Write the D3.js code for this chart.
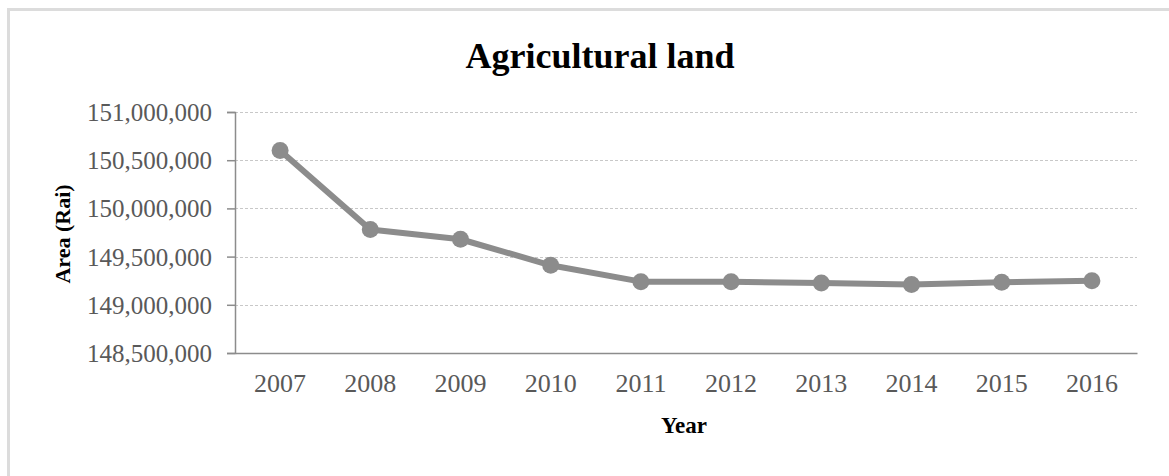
<!DOCTYPE html>
<html><head><meta charset="utf-8">
<script src="https://cdn.jsdelivr.net/npm/d3@7/dist/d3.min.js"></script>
<style>body{margin:0;background:#fff}svg{display:block}</style>
</head><body>
<svg id="c" width="1169" height="476"></svg>
<script>
const years = ["2007","2008","2009","2010","2011","2012","2013","2014","2015","2016"];
const area = [150600000,149780000,149680000,149410000,149240000,149240000,149225000,149210000,149235000,149250000];
const yTicks = [148500000,149000000,149500000,150000000,150500000,151000000];
const title = "Agricultural land";
const xTitle = "Year";
const yTitle = "Area (Rai)";

const svg = d3.select("#c");
const font = "'Liberation Serif','Times New Roman',serif";
const m = {l:235, r:1137, t:112, b:353};

svg.append("rect").attr("x",8.5).attr("y",9.5).attr("width",1170).attr("height",480)
  .attr("fill","none").attr("stroke","#dcdcdc").attr("stroke-width",3);

const x = d3.scaleBand().domain(years).range([m.l,m.r]);
const y = d3.scaleLinear().domain([148500000,151000000]).range([m.b,m.t]);

// gridlines
svg.append("g").selectAll("line").data(yTicks.slice(1)).join("line")
  .attr("x1",m.l).attr("x2",m.r).attr("y1",d=>Math.round(y(d))+0.5).attr("y2",d=>Math.round(y(d))+0.5)
  .attr("stroke","#c8c8c8").attr("stroke-width",1.2).attr("stroke-dasharray","3,2");

// y axis
const ya = svg.append("g").attr("transform",`translate(${m.l},0)`)
  .call(d3.axisLeft(y).tickValues(yTicks).tickSize(8).tickPadding(15).tickFormat(d3.format(",")));
ya.select(".domain").attr("stroke","#8c8c8c").attr("stroke-width",1.5);
ya.selectAll(".tick line").attr("stroke","#8c8c8c").attr("stroke-width",1.5);
ya.selectAll("text").attr("font-family",font).attr("font-size",25).attr("fill","#595959").attr("dy","0.34em");

// x axis
const xa = svg.append("g").attr("transform",`translate(0,${m.b})`)
  .call(d3.axisBottom(x).tickSize(0).tickPadding(21));
xa.select(".domain").attr("stroke","#8c8c8c").attr("stroke-width",1.5);
xa.selectAll("text").attr("font-family",font).attr("font-size",26).attr("fill","#595959");

// line
const line = d3.line().x((d,i)=>x(years[i])+x.bandwidth()/2).y(d=>y(d));
svg.append("path").datum(area).attr("d",line).attr("fill","none")
  .attr("stroke","#8c8c8c").attr("stroke-width",6).attr("stroke-linejoin","round");
svg.append("g").selectAll("circle").data(area).join("circle")
  .attr("cx",(d,i)=>x(years[i])+x.bandwidth()/2).attr("cy",d=>y(d)).attr("r",8.5)
  .attr("fill","#8c8c8c");

// titles
svg.append("text").attr("x",600).attr("y",68).attr("text-anchor","middle")
  .attr("font-family",font).attr("font-weight","bold").attr("font-size",36).attr("fill","#000").text(title);
svg.append("text").attr("x",684).attr("y",433).attr("text-anchor","middle")
  .attr("font-family",font).attr("font-weight","bold").attr("font-size",23).attr("fill","#000").text(xTitle);
svg.append("text").attr("transform","translate(70,234) rotate(-90)").attr("text-anchor","middle")
  .attr("font-family",font).attr("font-weight","bold").attr("font-size",22).attr("fill","#000").text(yTitle);
</script>
</body></html>
